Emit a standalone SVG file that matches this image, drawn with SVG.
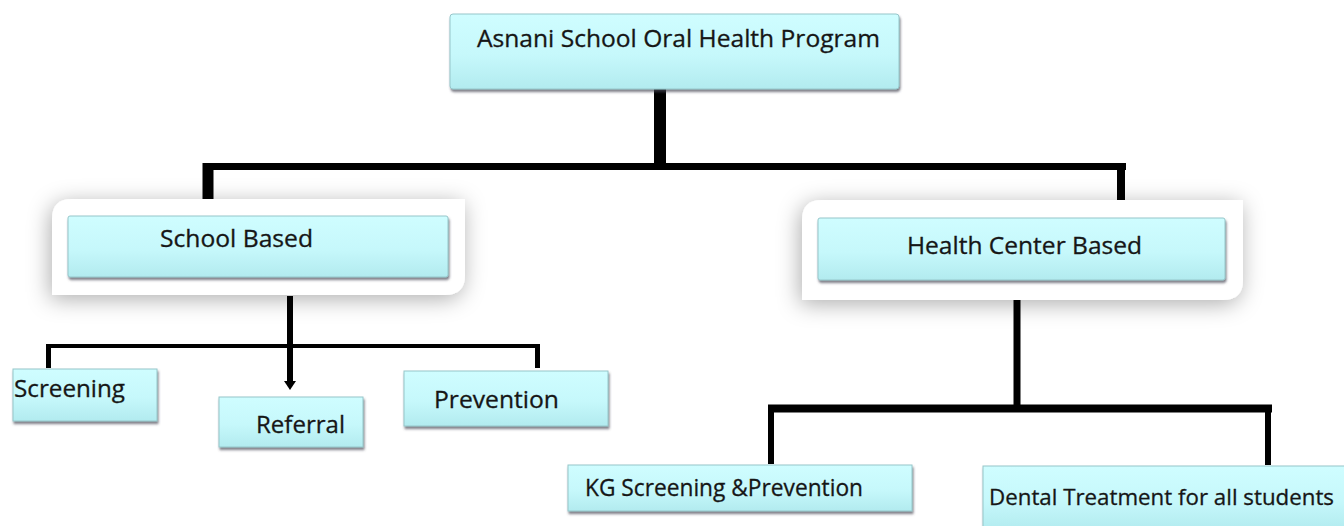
<svg xmlns="http://www.w3.org/2000/svg" width="1344" height="526" viewBox="0 0 1344 526">
  <defs>
    <linearGradient id="boxFill" x1="0" y1="0" x2="0" y2="1">
      <stop offset="0" stop-color="#cffdff"/>
      <stop offset="0.55" stop-color="#c6f8fb"/>
      <stop offset="1" stop-color="#b2ebef"/>
    </linearGradient>
    <filter id="boxShadow" x="-10%" y="-20%" width="120%" height="150%">
      <feDropShadow dx="1" dy="2.5" stdDeviation="1" flood-color="#445" flood-opacity="0.7"/>
    </filter>
    <filter id="panelShadow" x="-15%" y="-40%" width="130%" height="180%">
      <feDropShadow dx="-2" dy="4" stdDeviation="11" flood-color="#000" flood-opacity="0.32"/>
    </filter>
  </defs>
  <style>
    .box { fill: url(#boxFill); stroke: #96c6ca; stroke-width: 1; filter: url(#boxShadow); }
    .panel { fill: #ffffff; filter: url(#panelShadow); }
    .lbl { font-family: "Open Sans", "Noto Sans", "Liberation Sans", sans-serif; font-size: 23.5px; fill: #161616; stroke: #161616; stroke-width: 0.3; }
    .small { font-size: 22px; }
    .con { stroke: #000; fill: none; stroke-linecap: butt; }
  </style>
  <rect width="1344" height="526" fill="#ffffff"/>

  <g id="connectors">
    <line class="con" x1="660" y1="88" x2="660" y2="170" stroke-width="12"/>
    <line class="con" x1="203" y1="166.5" x2="1126" y2="166.5" stroke-width="7"/>
    <line class="con" x1="208" y1="163" x2="208" y2="204" stroke-width="11"/>
    <line class="con" x1="1121" y1="163" x2="1121" y2="204" stroke-width="8"/>
    <line class="con" x1="290" y1="296" x2="290" y2="383" stroke-width="6"/>
    <polygon points="284,381 296,381 290,390" fill="#000"/>
    <line class="con" x1="46" y1="346" x2="540" y2="346" stroke-width="4"/>
    <line class="con" x1="48.5" y1="344" x2="48.5" y2="368" stroke-width="5"/>
    <line class="con" x1="537.5" y1="344" x2="537.5" y2="368" stroke-width="5"/>
    <line class="con" x1="1017" y1="297" x2="1017" y2="408" stroke-width="7"/>
    <line class="con" x1="768" y1="408.5" x2="1272" y2="408.5" stroke-width="8"/>
    <line class="con" x1="771" y1="405" x2="771" y2="464" stroke-width="6"/>
    <line class="con" x1="1268" y1="405" x2="1268" y2="465" stroke-width="6"/>
  </g>

  <g id="root">
    <rect class="box" x="450" y="14" width="449" height="75" rx="3"/>
    <text class="lbl" x="477" y="47" textLength="403" lengthAdjust="spacingAndGlyphs">Asnani School Oral Health Program</text>
  </g>

  <g id="school-based">
    <path class="panel" d="M72,199 H465 V275 Q465,295 445,295 H52 V219 Q52,199 72,199 Z"/>
    <rect class="box" x="68" y="216" width="380" height="61" rx="2"/>
    <text class="lbl" x="160" y="247" textLength="153" lengthAdjust="spacingAndGlyphs">School Based</text>
  </g>

  <g id="health-center-based">
    <path class="panel" d="M822,200 H1243 V280 Q1243,300 1223,300 H802 V220 Q802,200 822,200 Z"/>
    <rect class="box" x="818" y="218" width="407" height="62" rx="2"/>
    <text class="lbl" x="907" y="254" textLength="235" lengthAdjust="spacingAndGlyphs">Health Center Based</text>
  </g>

  <g id="screening">
    <rect class="box" x="13" y="369" width="144" height="52"/>
    <text class="lbl" x="14" y="397" textLength="111" lengthAdjust="spacingAndGlyphs">Screening</text>
  </g>

  <g id="referral">
    <rect class="box" x="219" y="397" width="144" height="50"/>
    <text class="lbl" x="256" y="433" textLength="89" lengthAdjust="spacingAndGlyphs">Referral</text>
  </g>

  <g id="prevention">
    <rect class="box" x="404" y="371" width="204" height="55"/>
    <text class="lbl" x="434" y="408" textLength="125" lengthAdjust="spacingAndGlyphs">Prevention</text>
  </g>

  <g id="kg-screening">
    <rect class="box" x="568" y="465" width="344" height="46"/>
    <text class="lbl" x="585" y="496" textLength="278" lengthAdjust="spacingAndGlyphs">KG Screening &amp;Prevention</text>
  </g>

  <g id="dental-treatment">
    <rect class="box" x="983" y="466" width="370" height="64"/>
    <text class="lbl small" x="989" y="505" textLength="345" lengthAdjust="spacingAndGlyphs">Dental Treatment for all students</text>
  </g>
</svg>
